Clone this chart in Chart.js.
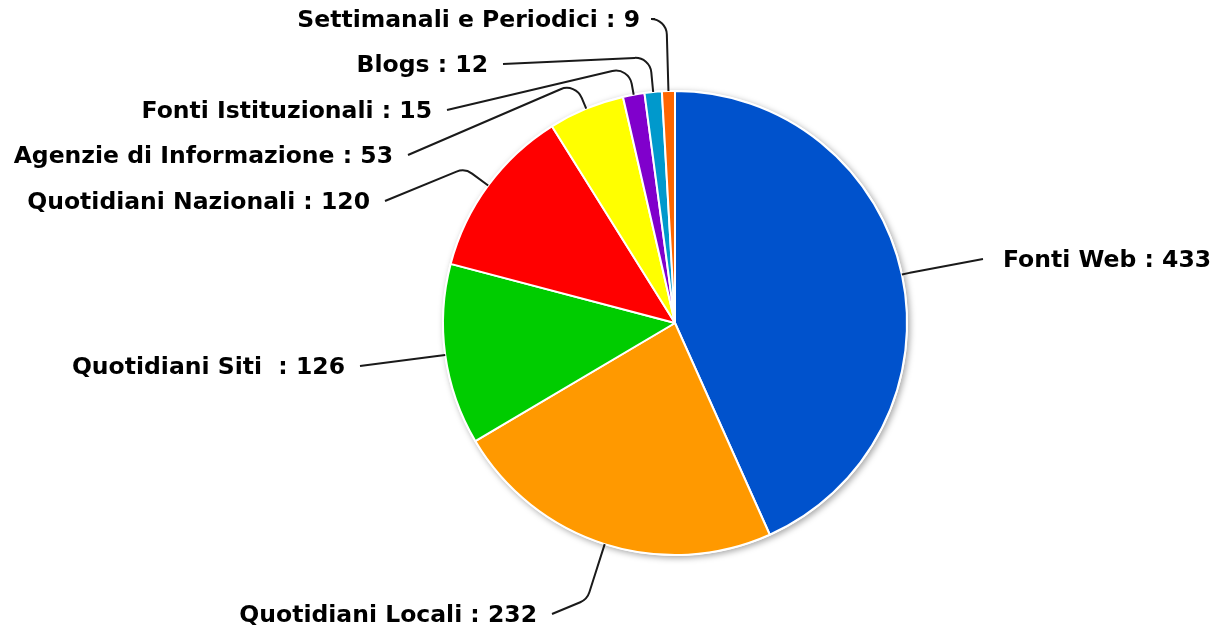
<!DOCTYPE html>
<html>
<head>
<meta charset="utf-8">
<script src="https://cdn.jsdelivr.net/npm/chart.js@4.4.0/dist/chart.umd.min.js"></script>
<style>
    html, body { margin: 0; padding: 0; background: #fff; }
</style>
</head>
<body>
<canvas id="pieChart" width="1218" height="630"></canvas>
<script>
const categories = ['Fonti Web', 'Quotidiani Locali', 'Quotidiani Siti ', 'Quotidiani Nazionali', 'Agenzie di Informazione', 'Fonti Istituzionali', 'Blogs', 'Settimanali e Periodici'];
const values = [433, 232, 126, 120, 53, 15, 12, 9];
const sliceColors = ['#0052CC', '#FF9900', '#00CC00', '#FF0000', '#FFFF00', '#8000CC', '#0099CC', '#FF6600'];

// end of each leader line, which side the text goes, how far the line runs out before it bends
const labelLayout = [
    { x: 983, y: 259, side: 'right', ext: 8 },
    { x: 552, y: 614, side: 'left', ext: 58 },
    { x: 360, y: 366, side: 'left', ext: 6 },
    { x: 385, y: 201, side: 'left', ext: 29 },
    { x: 408, y: 155, side: 'left', ext: 28 },
    { x: 447, y: 110, side: 'left', ext: 28 },
    { x: 503, y: 64, side: 'left', ext: 35 },
    { x: 655, y: 19, side: 'left', ext: 72 }
];

const pieShadow = {
    id: 'pieShadow',
    beforeDatasetsDraw(chart) {
        const arc = chart.getDatasetMeta(0).data[0];
        const ctx = chart.ctx;
        ctx.save();
        ctx.shadowColor = 'rgba(0,0,0,0.35)';
        ctx.shadowBlur = 6;
        ctx.shadowOffsetX = 2;
        ctx.shadowOffsetY = 2;
        ctx.fillStyle = '#fff';
        ctx.beginPath();
        ctx.arc(arc.x, arc.y, arc.outerRadius + 1, 0, Math.PI * 2);
        ctx.fill();
        ctx.restore();
    }
};

const leaderLabels = {
    id: 'leaderLabels',
    afterDatasetsDraw(chart) {
        const ctx = chart.ctx;
        const meta = chart.getDatasetMeta(0);
        ctx.save();
        ctx.font = 'bold 23.5px "DejaVu Sans"';
        ctx.textBaseline = 'middle';
        meta.data.forEach((arc, i) => {
            const L = labelLayout[i];
            const a = (arc.startAngle + arc.endAngle) / 2;
            const r = arc.outerRadius;
            const sx = arc.x + Math.cos(a) * r;
            const sy = arc.y + Math.sin(a) * r;
            const bx = arc.x + Math.cos(a) * (r + L.ext);
            const by = arc.y + Math.sin(a) * (r + L.ext);

            ctx.strokeStyle = '#1a1a1a';
            ctx.lineWidth = 2;
            ctx.beginPath();
            ctx.moveTo(sx, sy);
            ctx.arcTo(bx, by, L.x, L.y, 16);
            ctx.lineTo(L.x, L.y);
            ctx.stroke();

            ctx.fillStyle = '#000';
            const text = `${categories[i]} : ${values[i]}`;
            if (L.side === 'right') {
                ctx.textAlign = 'left';
                ctx.fillText(text, L.x + 20, L.y + 2);
            } else {
                ctx.textAlign = 'right';
                ctx.fillText(text, L.x - 15, L.y + 2);
            }
        });
        ctx.restore();
    }
};

new Chart(document.getElementById('pieChart'), {
    type: 'pie',
    data: {
        labels: categories,
        datasets: [{
            data: values,
            backgroundColor: sliceColors,
            borderColor: '#fff',
            borderWidth: 2
        }]
    },
    options: {
        responsive: false,
        animation: false,
        events: [],
        layout: {
            padding: { left: 442, right: 310, top: 90, bottom: 74 }
        },
        plugins: {
            legend: { display: false },
            tooltip: { enabled: false }
        }
    },
    plugins: [pieShadow, leaderLabels]
});
</script>
</body>
</html>
